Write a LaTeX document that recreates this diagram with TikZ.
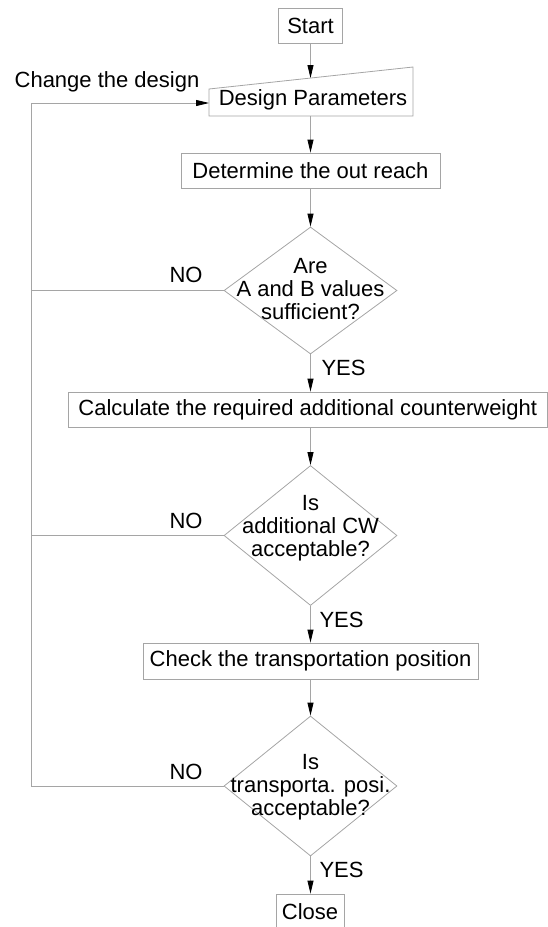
\documentclass[tikz,border=0pt]{standalone}
\usepackage{fontspec}
\setmainfont{Liberation Sans}
\usetikzlibrary{arrows.meta,shapes.geometric}
\definecolor{edgegray}{RGB}{165,165,165}
\begin{document}
\begin{tikzpicture}[x=1pt,y=-1pt,
  every node/.style={font=\fontsize{22}{23}\selectfont},
  box/.style={draw=edgegray,line width=0.8pt,inner sep=0pt,minimum height=35pt},
  dia/.style={draw=edgegray,line width=0.8pt,diamond,inner sep=0pt,minimum width=173pt},
  dtext/.style={align=center,inner sep=0pt},
  link/.style={draw=edgegray,line width=0.8pt},
  flow/.style={link,-{Triangle[length=13pt,width=6pt,black]}},
]
\useasboundingbox (0,0) rectangle (548,927);
\clip (0,0) rectangle (548,927);

% process boxes
\node[box,minimum width=64pt] (start) at (310.5,25.5) {Start};
\node[box,minimum width=259pt] (det) at (310.5,170.5) {Determine the out reach};
\node[box,minimum width=479.5pt] (calc) at (307.75,409.5) {Calculate the required additional counterweight};
\node[box,minimum width=335pt,minimum height=36pt] (check) at (310.5,661) {Check the transportation position};
\node[box,minimum width=68pt] (close) at (310,911.5) {Close};

% manual input block (slanted top edge)
\coordinate (dpTL) at (209,89);
\coordinate (dpTR) at (413,67);
\coordinate (dpBR) at (413,116);
\coordinate (dpBL) at (209,116);
\draw[link] (dpTL) -- (dpTR) -- (dpBR) -- (dpBL) -- cycle;
\node[inner sep=0pt] (dp) at (313,100) {Design Parameters};
\coordinate (dptop) at (310.5,78);
\coordinate (dpbot) at (310.5,116);

% decisions
\node[dia,minimum height=127pt] (d1) at (310.5,290.5) {};
\node[dtext] (d1t) at (310.5,289) {Are\\A and B values\\sufficient?};
\node[dia,minimum height=140pt] (d2) at (310.5,535.5) {};
\node[dtext] (d2t) at (310.5,528) {Is\\additional CW\\acceptable?};
\node[dia,minimum height=140pt] (d3) at (310.5,786) {};
\node[dtext] (d3t) at (310.5,787) {Is\\transporta. posi.\\acceptable?};

% main flow
\draw[flow] (start.south) -- (dptop);
\draw[flow] (dpbot) -- (det.north);
\draw[flow] (det.south) -- (d1.north);
\draw[flow] (d1.south) -- (d1.south |- calc.north);
\draw[flow] (calc.south -| d2.north) -- (d2.north);
\draw[flow] (d2.south) -- (check.north);
\draw[flow] (check.south) -- (d3.north);
\draw[flow] (d3.south) -- (d3.south |- close.north);

% feedback loop to the design parameters
\coordinate (rail) at (31,103);
\coordinate (dpin) at (209,103);
\draw[flow] (d3.west) -- (d3.west -| rail) -- (rail) -- (dpin);
\draw[link] (d1.west) -- (d1.west -| rail);
\draw[link] (d2.west) -- (d2.west -| rail);

% labels
\node (chg) at (107,82) {Change the design};
\node (no1) at (186,275) {NO};
\node (no2) at (186,521) {NO};
\node (no3) at (186,772) {NO};
\node[anchor=west] (yes1) at (318,368) {YES};
\node[anchor=west] (yes2) at (316,620) {YES};
\node[anchor=west] (yes3) at (316,870) {YES};
\end{tikzpicture}
\end{document}
